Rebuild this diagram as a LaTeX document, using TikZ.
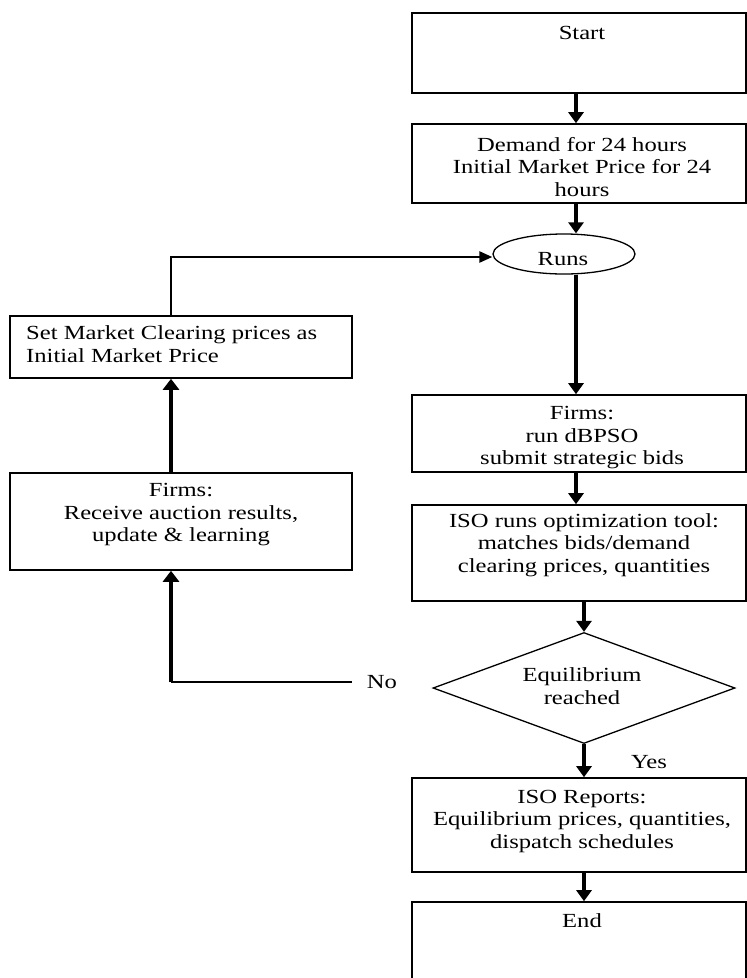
\documentclass[tikz,border=0pt]{standalone}
\usepackage{fontspec}
\newfontfamily\wf[FakeStretch=1.23]{Liberation Serif}
\usetikzlibrary{shapes.geometric,arrows.meta}
\begin{document}
\begin{tikzpicture}[x=1pt,y=-1pt,
 box/.style={draw,line width=1.6pt,inner sep=0pt,minimum width=334pt},
 lbox/.style={draw,line width=1.6pt,inner sep=0pt,minimum width=342pt},
 txt/.style={font=\wf\fontsize{20}{22.5}\selectfont,align=center,inner sep=0pt},
 arr/.style={line width=3.2pt,-{Triangle[length=11pt,width=15pt]}},
 arrL/.style={line width=4.6pt,-{Triangle[length=11pt,width=16pt]}},
 loopline/.style={line width=2.5pt},
]
\useasboundingbox (0,0) rectangle (747,978);
\clip (0,0) rectangle (747,978);

\coordinate (ax1) at (576,0);
\coordinate (ax2) at (584,0);
\coordinate (lx) at (171,0);

% right column
\node[box,minimum height=80pt] (start) at (579,53) {};
\node[txt] (startt) at (582,33) {Start};

\node[box,minimum height=79pt] (demand) at (579,163.5) {};
\node[txt] (demandt) at (582,167) {Demand for 24 hours\\Initial Market Price for 24\\hours};

\node[draw,ellipse,line width=1.3pt,minimum width=142pt,minimum height=40pt,inner sep=0pt] (runs) at (564,254) {};
\node[txt] (runst) at (563,259) {Runs};

\node[box,minimum height=77pt] (firmsR) at (579,433.5) {};
\node[txt] (firmsRt) at (582,438) {Firms:\\run dBPSO\\submit strategic bids};

\node[box,minimum height=96pt] (iso) at (579,553) {};
\node[txt] (isot) at (584,545) {ISO runs optimization tool:\\matches bids/demand\\clearing prices, quantities};

\node[draw,diamond,aspect=2.72,minimum width=302pt,minimum height=111pt,inner sep=0pt,line width=1.3pt] (dia) at (584,688) {};
\node[txt] (diat) at (582,686) {Equilibrium\\reached};

\node[txt] (yes) at (649,762) {Yes};

\node[box,minimum height=94pt] (reports) at (579,825) {};
\node[txt] (reportst) at (582,821) {ISO Reports:\\Equilibrium prices, quantities,\\dispatch schedules};

\node[box,minimum height=98pt] (end) at (579,951) {};
\node[txt] (endt) at (582,921) {End};

% left column
\node[lbox,minimum height=62pt] (setL) at (181,347) {};
\node[txt,align=left,anchor=west] (setLt) at (26,344) {Set Market Clearing prices as\\Initial Market Price};

\node[lbox,minimum height=97pt] (firmsL) at (181,521.5) {};
\node[txt] (firmsLt) at (181,515) {Firms:\\Receive auction results,\\update \& learning};

\node[txt,inner xsep=15pt] (no) at (382,682) {No};

% connectors
\draw[arr] (start.south -| ax1) -- (demand.north -| ax1);
\draw[arr] (demand.south -| ax1) -- (ax1 |- runs.north);
\draw[arr] (ax1 |- runs.south) -- (firmsR.north -| ax1);
\draw[arr] (firmsR.south -| ax1) -- (iso.north -| ax1);
\draw[arr] (iso.south -| ax2) -- (dia.north);
\draw[arr] (dia.south) -- (reports.north -| ax2);
\draw[arr] (reports.south -| ax2) -- (end.north -| ax2);

\draw[line width=2pt] (no.west) -- (no.west -| lx);
\draw[arrL] (no.west -| lx) -- (lx |- firmsL.south);
\draw[arrL] (lx |- firmsL.north) -- (lx |- setL.south);
\draw[loopline,-{Triangle[length=13pt,width=11pt]}] (lx |- setL.north) |- ([yshift=-3pt]runs.west);
\end{tikzpicture}
\end{document}
